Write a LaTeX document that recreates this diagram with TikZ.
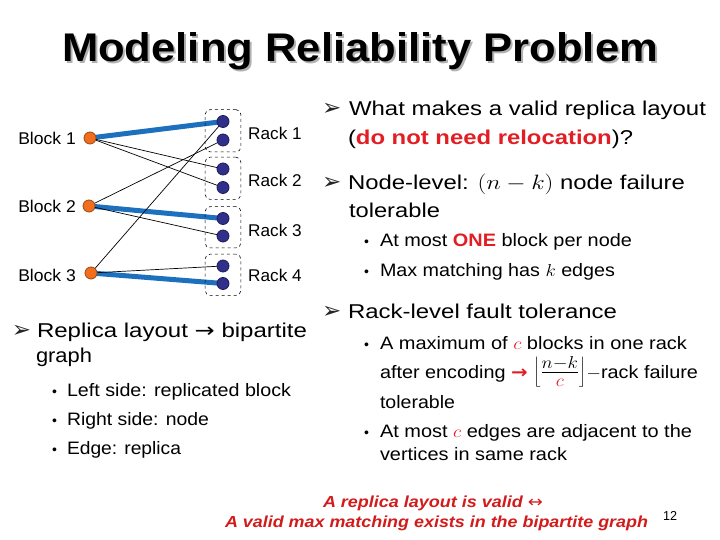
\documentclass[tikz,border=0pt]{standalone}
\usepackage{fontspec}
\setmainfont{Liberation Sans}
\newfontfamily\dv{DejaVu Sans}
\usepackage{graphicx}
\usetikzlibrary{fit,backgrounds}
\definecolor{hred}{RGB}{226,30,36}
\definecolor{bred}{RGB}{210,28,28}
\definecolor{eblue}{RGB}{28,112,190}
\definecolor{navy}{RGB}{48,48,140}
\definecolor{orng}{RGB}{240,110,30}
\newcommand{\fw}[2]{\resizebox{#1pt}{\height}{#2}}
\begin{document}
\begin{tikzpicture}[x=1pt,y=-1pt,
  txt/.style={anchor=base west, inner sep=0pt, outer sep=0pt},
  l1/.style={txt, font=\fontsize{20}{24}\selectfont},
  l2/.style={txt, font=\fontsize{18}{22}\selectfont},
  bul/.style={txt, font=\dv\fontsize{23}{26}\selectfont, text=black!85},
  dotb/.style={txt, font=\fontsize{14}{16}\selectfont},
  blk/.style={circle, fill=orng, draw=orng!65!black, line width=0.8pt, minimum size=12pt, inner sep=0pt},
  rk/.style={circle, fill=navy, draw=navy!60!black, line width=0.8pt, minimum size=12pt, inner sep=0pt},
  rackbox/.style={draw, dashed, rounded corners=5pt, inner xsep=11.5pt, inner ysep=5.5pt, line width=0.6pt},
  thinedge/.style={line width=0.7pt, black},
  heavy/.style={line width=5pt, eblue},
  lab/.style={inner sep=0pt, font=\fontsize{17}{20}\selectfont},
]
\useasboundingbox (0,0) rectangle (720,540);

% title
\node[txt, text=black!30, font=\bfseries\fontsize{40}{48}\selectfont] (titleshadow) at (64,64) {\fw{596}{Modeling Reliability Problem}};
\node[txt, font=\bfseries\fontsize{40}{48}\selectfont] (title) at (62,62) {\fw{596}{Modeling Reliability Problem}};

% graph nodes
\node[blk] (b1) at (90,138) {};
\node[blk] (b2) at (89,206) {};
\node[blk] (b3) at (91,273) {};
\node[rk] (r1a) at (223,121.5) {};
\node[rk] (r1b) at (223,140) {};
\node[rk] (r2a) at (223,169) {};
\node[rk] (r2b) at (223,187.5) {};
\node[rk] (r3a) at (223,218.5) {};
\node[rk] (r3b) at (223,236) {};
\node[rk] (r4a) at (223,266) {};
\node[rk] (r4b) at (223,283.5) {};
\node[rackbox, fit=(r1a)(r1b)] (box1) {};
\node[rackbox, fit=(r2a)(r2b)] (box2) {};
\node[rackbox, fit=(r3a)(r3b)] (box3) {};
\node[rackbox, fit=(r4a)(r4b)] (box4) {};
\begin{pgfonlayer}{background}
\fill[white] (0,0) rectangle (720,540);
\draw[heavy] (b1.center) -- (r1a.center);
\draw[heavy] (b2.center) -- (r3a.center);
\draw[heavy] (b3.center) -- (r4b.center);
\draw[thinedge] (b1.center) -- (r2a.center);
\draw[thinedge] (b1.center) -- (r2b.center);
\draw[thinedge] (b2.center) -- (r1b.center);
\draw[thinedge] (b2.center) -- (r3b.center);
\draw[thinedge] (b3.center) -- (r1a.center);
\draw[thinedge] (b3.center) -- (r4a.center);
\end{pgfonlayer}
\node[lab, anchor=base west] (lr1) at (248,140) {\fw{53.5}{Rack 1}};
\node[lab, anchor=base west] (lr2) at (248,186.5) {\fw{53.5}{Rack 2}};
\node[lab, anchor=base west] (lr3) at (248,236.5) {\fw{53.5}{Rack 3}};
\node[lab, anchor=base west] (lr4) at (248,281.5) {\fw{53.5}{Rack 4}};
\node[lab, anchor=base east] (lb1) at (76,145) {\fw{57.5}{Block 1}};
\node[lab, anchor=base east] (lb2) at (76,212.5) {\fw{57.5}{Block 2}};
\node[lab, anchor=base east] (lb3) at (76,281) {\fw{57.5}{Block 3}};

% right column
\node[bul] (ar1) at (322,116) {➢};
\node[l1] (rt1) at (349,116) {\fw{357}{What makes a valid replica layout}};
\node[l1] (rt2) at (348,145) {\fw{285}{(\textcolor{hred}{\bfseries do not need relocation})?}};
\node[bul] (ar2) at (322,190) {➢};
\node[l1] (rt3) at (348,190) {\fw{337}{Node-level: $(n-k)$ node failure}};
\node[l1] (rt4) at (349,218) {\fw{91}{tolerable}};
\node[dotb] (dt1) at (364,247) {•};
\node[l2] (rt5) at (380,247) {\fw{252}{At most \textcolor{hred}{\bfseries ONE} block per node}};
\node[dotb] (dt2) at (364,276) {•};
\node[l2] (rt6) at (380,276) {\fw{235}{Max matching has $k$ edges}};
\node[bul] (ar3) at (322,318) {➢};
\node[l1] (rt7) at (348,318) {\fw{269}{Rack-level fault tolerance}};
\node[dotb] (dt3) at (364,349) {•};
\node[l2] (rt8) at (380,349) {\fw{307}{A maximum of $\textcolor{hred}{c}$ blocks in one rack}};
\node[l2] (rt9) at (380,378) {\fw{318}{after encoding {\dv\bfseries\color{hred}→} \smash{\fontsize{23}{25}\selectfont$\left\lfloor\frac{n-k}{\textcolor{hred}{c}}\right\rfloor$}$-$rack failure}};
\node[l2] (rt10) at (380,408) {\fw{75}{tolerable}};
\node[dotb] (dt4) at (364,437) {•};
\node[l2] (rt11) at (380,437) {\fw{312}{At most $\textcolor{hred}{c}$ edges are adjacent to the}};
\node[l2] (rt12) at (380,460) {\fw{187}{vertices in same rack}};

% left column
\node[bul] (al1) at (12,337) {➢};
\node[l1] (lt1) at (37,337) {\fw{270}{Replica layout {\dv →} bipartite}};
\node[l1] (lt2) at (36,362) {\fw{56}{graph}};
\node[dotb] (dl1) at (52,396) {•};
\node[l2] (lt3) at (67,396) {\fw{224}{Left side: replicated block}};
\node[dotb] (dl2) at (52,425) {•};
\node[l2] (lt4) at (67,425) {\fw{142}{Right side: node}};
\node[dotb] (dl3) at (52,454) {•};
\node[l2] (lt5) at (67,454) {\fw{114}{Edge: replica}};

% bottom
\node[txt, text=bred, font=\bfseries\itshape\fontsize{16}{19}\selectfont] (bt1) at (323,507) {\fw{220}{A replica layout is valid {\dv\mdseries\upshape ↔}}};
\node[txt, text=bred, font=\bfseries\itshape\fontsize{16}{19}\selectfont] (bt2) at (225,527) {\fw{423}{A valid max matching exists in the bipartite graph}};
\node[txt, font=\fontsize{13}{15}\selectfont] (pg) at (663,520) {\fw{14}{12}};
\end{tikzpicture}
\end{document}
